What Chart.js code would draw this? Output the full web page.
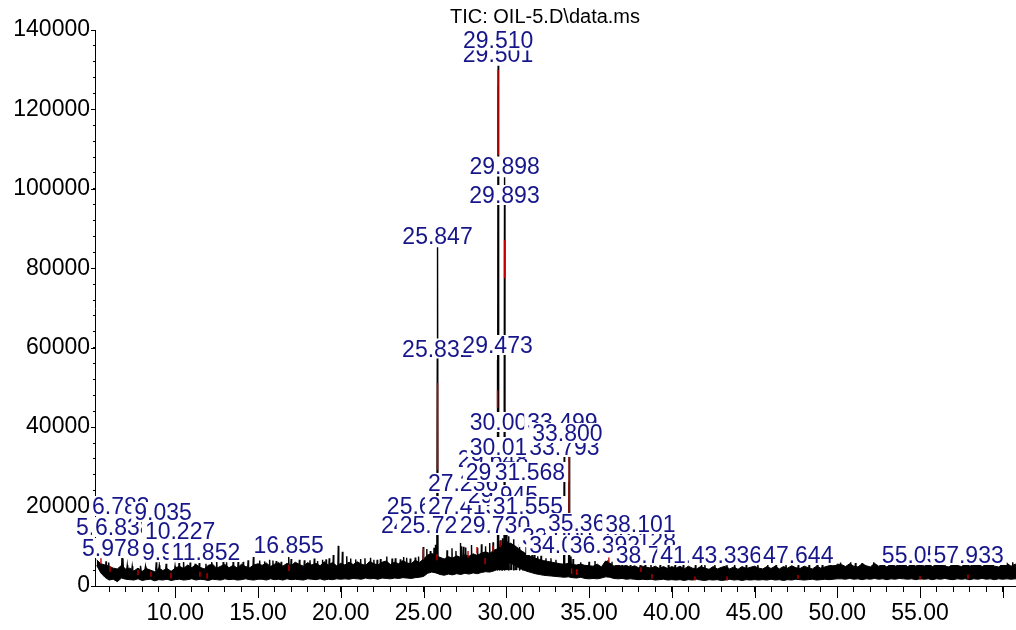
<!DOCTYPE html>
<html>
<head>
<meta charset="utf-8">
<title>TIC: OIL-5.D\data.ms</title>
<script src="https://cdn.jsdelivr.net/npm/chart.js@4.4.1/dist/chart.umd.min.js"></script>
<style>
  html, body { margin: 0; padding: 0; background: #ffffff; }
  #wrap { width: 1016px; height: 630px; position: relative; }
</style>
</head>
<body>
<div id="wrap"><canvas id="tic" width="1016" height="630"></canvas></div>
<script>
// ---- Chromatogram data (retention time in minutes, abundance in counts) ----
const chartTitle = 'TIC: OIL-5.D\\data.ms';

// Noise band of the baseline, sampled every 0.25 min starting at 5.25 min
const gridStart = 5.25;
const gridStep = 0.25;
const bandUpper = [
  6600, 5600, 5300, 5000, 4500, 4300, 5200, 4300,
  4500, 3800, 4500, 3700, 4400, 4000, 3600, 4500, 3900, 4400, 3700, 4500,
  5000, 4400, 5300, 4600, 5400, 4700, 4300, 5200, 5500, 4500, 5000, 5400, 4600, 5200, 4500, 5500, 4900, 4600, 5300, 5600,
  5200, 5800, 4900, 5500, 5900, 5000, 5700, 5100, 6000, 5400, 5000, 5900, 5300, 5700, 5100, 6100, 5300, 5900, 5100, 5700,
  5300, 6000, 5400, 6100, 5500, 5200, 6200, 5600, 5300, 6000, 6300, 5400, 6000, 5600, 6400, 5800, 5600, 6500, 5900, 6800,
  7800, 8200, 7600, 7200, 6800, 7400, 7000, 7600, 7200, 7900, 7500, 8100, 7700, 8300, 8600, 8200, 9000, 9400, 9800, 10300,
  10800, 10200, 9400, 8600, 8000, 7400, 7000, 6700, 6400, 6200, 6000, 5800, 5600, 5500, 5700, 5400, 5300, 5500, 5200, 5100,
  5000, 5500, 4800, 6300, 5800, 5000, 5300, 4900, 5200, 4700, 5100, 4600, 5000, 4700, 4500, 5000, 4400, 4900, 4400, 4900,
  4500, 5000, 4300, 5000, 4500, 4300, 4900, 4500, 4200, 4900, 4300, 4700, 5000, 4300, 4800, 4200, 4900, 4400, 4700, 5000,
  4500, 4300, 4900, 4400, 5000, 4300, 4900, 4500, 5100, 4600, 4400, 5000, 4600, 4300, 5000, 4500, 4800, 5100, 5100, 5500,
  5400, 4900, 5600, 5000, 4800, 5600, 5100, 4800, 5700, 5000, 5400, 4800, 5600, 5000, 5300, 5700, 4900, 5400, 5000, 5600,
  5000, 5600, 4900, 5400, 5700, 5000, 4800, 5600, 5200, 4900, 5600, 5000, 5300, 5700, 4900, 5400, 5600, 5000, 4800, 5400, 5700, 5000, 5500, 5300
];
const bandLower = [
  5200, 3300, 2200, 1500, 1700, 1100, 2000, 1700,
  1600, 1500, 1800, 1400, 1600, 1700, 1300, 1600, 1500, 1700, 1400, 1600,
  1700, 1500, 1600, 1800, 1500, 1700, 1600, 1400, 1700, 1600, 1500, 1800, 1600, 1700, 1500, 1600, 1800, 1600, 1500, 1700,
  1700, 1500, 1800, 1600, 1700, 1500, 1800, 1600, 1700, 1600, 1500, 1800, 1700, 1600, 1800, 1500, 1700, 1600, 1800, 1700,
  1800, 1700, 1900, 1800, 1700, 2000, 1800, 1900, 1700, 2000, 1900, 1800, 2000, 1900, 2100, 2000, 1900, 2100, 2200, 2400,
  3200, 3500, 3300, 2900, 2700, 3000, 2800, 3100, 2900, 3200, 3000, 3300, 3100, 3400, 3600, 3500, 3800, 4200, 4700, 5500,
  5800, 5200, 4600, 4100, 3700, 3400, 3100, 2900, 2700, 2600, 2500, 2400, 2300, 2200, 2300, 2100, 2000, 2200, 1900, 1800,
  1900, 1800, 2000, 2300, 2200, 1900, 1800, 1900, 1700, 1800, 1700, 1600, 1700, 1600, 1700, 1500, 1600, 1700, 1500, 1600,
  1500, 1600, 1400, 1600, 1500, 1700, 1500, 1400, 1600, 1500, 1600, 1400, 1500, 1700, 1500, 1600, 1400, 1600, 1500, 1600,
  1500, 1600, 1500, 1700, 1500, 1600, 1400, 1600, 1500, 1700, 1600, 1500, 1600, 1700, 1500, 1600, 1700, 1600, 1700, 1800,
  1800, 1700, 1900, 1700, 1800, 1600, 1800, 1700, 1900, 1700, 1800, 1600, 1800, 1700, 1900, 1800, 1700, 1800, 1600, 1800,
  1700, 1800, 1600, 1800, 1700, 1900, 1700, 1600, 1800, 1700, 1800, 1600, 1800, 1700, 1900, 1700, 1800, 1600, 1800, 1700, 1800, 1700, 1800, 1700
];

// Peaks rising out of the baseline: apex retention time and apex abundance
const peakTimes = [
  5.815, 5.978, 6.783, 6.838, 7.1, 7.4, 7.9, 8.2, 8.85, 9.035, 9.45, 9.987, 10.227, 10.5, 10.9, 11.2, 11.45, 11.852,
  12.2, 12.5, 12.9, 13.1, 13.5, 13.8, 14.1, 14.4, 14.72,
  15.1, 15.4, 15.7, 15.9, 16.1, 16.4, 16.855, 17.0, 17.5, 17.8, 18.14, 18.4, 18.6, 18.9, 19.11, 19.3, 19.55, 19.85, 20.1,
  20.36, 20.6, 20.9, 21.2, 21.46, 21.8, 22.0, 22.2, 22.4, 22.78, 23.1, 23.3, 23.6, 23.8, 23.98, 24.2, 24.5, 24.7,
  24.981, 25.2, 25.412, 25.634, 25.725, 25.832, 25.847, 26.42, 26.72, 26.96, 27.236, 27.3, 27.415, 27.55, 27.9,
  28.27, 28.5, 28.75, 29.0, 29.2, 29.473, 29.501, 29.51, 29.6, 29.648, 29.73, 29.775, 29.893, 29.898, 29.945, 30.003, 30.012,
  30.05, 30.15, 30.3, 30.45, 30.6, 30.8, 31.0, 31.2, 31.35, 31.555, 31.568, 31.7, 31.9, 32.1, 32.4, 32.7, 33.0,
  33.499, 33.793, 33.8, 33.909, 34.036, 34.5, 35.0, 35.361, 36.14,
  36.392, 36.8, 37.0, 37.5, 38.101, 38.128, 38.4, 38.741, 39.3, 39.8, 40.2, 40.7, 41.431, 41.8, 42.0, 42.6, 43.336, 43.8,
  44.5, 45.2, 45.8, 46.3, 46.9, 47.644, 48.3, 48.8, 49.1, 49.6, 50.2, 50.8, 51.1, 51.5, 52.2, 52.8, 53.4, 54.0, 54.6,
  55.051, 55.6, 56.0, 56.5, 57.2, 57.933, 58.3, 58.9, 59.4, 59.9, 60.2, 60.6
];
const peakHeights = [
  6200, 5900, 7800, 6900, 5200, 5000, 5100, 4900, 6000, 5200, 5600, 5000, 5800, 6300, 5900, 5600, 5800, 5600,
  6200, 6600, 6400, 6000, 6300, 6200, 6100, 6500, 7300,
  6400, 6200, 6600, 6400, 6300, 6100, 7300, 6800, 6600, 6500, 6500, 6900, 6300, 6600, 6700, 7000, 7800, 10100, 8600,
  7500, 6900, 6700, 6800, 7000, 7100, 6600, 6600, 6800, 7400, 6900, 7000, 6700, 7300, 7100, 6900, 7200, 7400,
  9800, 9300, 8800, 9600, 10400, 58000, 85300, 9000, 9500, 8800, 10800, 10000, 9900, 9700, 10300,
  9600, 10500, 10000, 10800, 11000, 57000, 126000, 131000, 10500, 11500, 10200, 12000, 96000, 102900, 11000, 14000, 13000,
  11200, 12500, 10500, 11800, 9500, 10500, 8700, 9800, 9000, 9200, 9600, 8200, 7500, 7600, 7000, 7000, 6600,
  33000, 31500, 35500, 7400, 6800, 6000, 6100, 6300, 6500,
  6100, 5900, 6000, 5700, 5800, 5600, 5900, 5400, 5500, 5600, 5400, 5500, 5200, 5400, 5300, 5500, 5300, 5400,
  5300, 5500, 5400, 5400, 5600, 5400, 5500, 5700, 5500, 5800, 5900, 6000, 5800, 5800, 6000, 5900, 5900, 5800, 6000,
  5800, 5900, 6100, 5900, 6000, 5700, 5900, 5800, 6100, 5900, 6000, 6000
];
const spikeFoot = 4000;

// Integration markers (red): retention time, lower and upper abundance
const markTimes = [29.51, 29.898, 25.847, 29.473, 33.8, 5.51, 6.06, 7.75, 8.53, 9.74, 11.49, 11.92, 16.87, 24.99, 25.81,
  27.69, 28.23, 28.72, 29.2, 29.62, 33.95, 34.26, 36.2, 38.14, 38.8, 41.4, 43.34, 47.63, 55.0, 57.9];
const markLow = [108500, 77500, 29200, 44800, 16000, 5600, 3600, 2800, 2300, 1900, 2300, 1900, 3800, 6700, 6500,
  7200, 8200, 5500, 8700, 9800, 3000, 2800, 6000, 3500, 1800, 1400, 1400, 1800, 1600, 1800];
const markHigh = [129900, 87100, 51100, 49300, 33000, 7000, 5000, 4000, 3600, 3300, 3600, 3200, 5300, 9500, 8000,
  8800, 9800, 7000, 10200, 11300, 4400, 4200, 7200, 4700, 3000, 2400, 2400, 2800, 2600, 2900];

// Retention-time annotations, in drawing order (later ones sit on top)
const labelTexts = [
  '5.815', '6.838', '10.227', '5.978', '9.987', '11.852', '6.783', '9.035', '16.855',
  '25.412', '25.634', '27.415', '29.945', '31.555', '24.981', '25.725', '29.730', '27.236', '29.648', '29.775', '31.568',
  '30.012', '33.793', '30.003', '33.499', '33.800',
  '33.909', '38.128', '35.361', '38.101', '34.036', '36.392', '38.741', '41.431', '43.336', '47.644', '55.051', '57.933',
  '29.501', '29.510', '29.893', '29.898', '25.832', '29.473', '25.847'
];
const labelTimes = [
  5.74, 6.89, 10.29, 6.10, 9.73, 11.852, 6.71, 9.26, 16.855,
  24.91, 24.91, 27.39, 29.80, 31.31, 24.55, 25.69, 29.32, 27.39, 29.20, 29.68, 31.43,
  29.92, 33.51, 29.92, 33.39, 33.69,
  33.07, 38.128, 34.64, 38.101, 33.51, 35.96, 38.741, 41.431, 43.336, 47.644, 54.82, 57.933,
  29.501, 29.510, 29.893, 29.898, 25.832, 29.473, 25.847
];
const labelLevels = [
  14860, 14860, 13850, 9570, 8560, 8560, 20140, 18630, 10320,
  17880, 20140, 20140, 22910, 20140, 15360, 15360, 15360, 25940, 31980, 28710, 28710,
  35000, 35000, 41300, 41300, 38530,
  12340, 11580, 15860, 15610, 10320, 10320, 7810, 7810, 7810, 7810, 7810, 7810,
  133960, 137360, 98450, 105630, 59800, 60690, 88130
];

// Axis ranges and tick spacing
const timeRange = [5.15, 60.8];
const abundanceRange = [0, 140000];
const timeMinorStep = 1, timeMajorStep = 5;
const abundanceMinorStep = 4000, abundanceMajorStep = 20000;

// ---- Build line data from the arrays above ----
const upperPoints = bandUpper.map((v, i) => ({ x: gridStart + i * gridStep, y: v }));
const lowerPoints = bandLower.map((v, i) => ({ x: gridStart + i * gridStep, y: v }));

const peakOrder = peakTimes.map((t, i) => i).sort((a, b) => peakTimes[a] - peakTimes[b]);
const spikePoints = [];
peakOrder.forEach(i => {
  const t = peakTimes[i];
  spikePoints.push({ x: t - 0.03, y: spikeFoot }, { x: t, y: peakHeights[i] },
                   { x: t + 0.03, y: spikeFoot }, { x: t + 0.03, y: null });
});

const markPoints = [];
markTimes.forEach((t, i) => {
  markPoints.push({ x: t, y: markLow[i] }, { x: t, y: markHigh[i] }, { x: t, y: null });
});

const FONT = '"Liberation Sans", Arial, Helvetica, sans-serif';
const LABEL_BLUE = '#16168a';

// Longer marks on the major ticks of both axes
const majorTicks = {
  id: 'majorTicks',
  afterDraw(chart) {
    const { ctx, scales: { x, y }, chartArea } = chart;
    ctx.save();
    ctx.strokeStyle = '#000';
    ctx.lineWidth = 1;
    ctx.beginPath();
    x.ticks.forEach(t => {
      if (Math.abs(t.value % timeMajorStep) < 1e-9) {
        const px = Math.round(x.getPixelForValue(t.value)) + 0.5;
        ctx.moveTo(px, chartArea.bottom);
        ctx.lineTo(px, chartArea.bottom + 12);
      }
    });
    y.ticks.forEach(t => {
      if (Math.abs(t.value % abundanceMajorStep) < 1e-9) {
        const py = Math.round(y.getPixelForValue(t.value)) + 0.5;
        ctx.moveTo(chartArea.left, py);
        ctx.lineTo(chartArea.left - 4, py);
      }
    });
    ctx.stroke();
    ctx.restore();
  }
};

// Retention-time annotations on white boxes
const peakLabels = {
  id: 'peakLabels',
  afterDraw(chart) {
    const { ctx, scales: { x, y } } = chart;
    ctx.save();
    ctx.font = '23px ' + FONT;
    ctx.textAlign = 'center';
    ctx.textBaseline = 'alphabetic';
    labelTexts.forEach((txt, i) => {
      const px = x.getPixelForValue(labelTimes[i]);
      const py = y.getPixelForValue(labelLevels[i]);
      const w = ctx.measureText(txt).width;
      ctx.fillStyle = '#ffffff';
      ctx.fillRect(px - w / 2 - 3, py - 10, w + 6, 20);
      ctx.fillStyle = LABEL_BLUE;
      ctx.fillText(txt, px, py + 8);
    });
    ctx.restore();
  }
};

const titleText = {
  id: 'titleText',
  afterDraw(chart) {
    const { ctx } = chart;
    ctx.save();
    ctx.font = '20px ' + FONT;
    ctx.fillStyle = '#000';
    ctx.textAlign = 'center';
    ctx.textBaseline = 'middle';
    ctx.fillText(chartTitle, 545, 17);
    ctx.restore();
  }
};

new Chart(document.getElementById('tic'), {
  type: 'line',
  data: {
    datasets: [
      { data: upperPoints, borderColor: '#000', borderWidth: 1, backgroundColor: '#000',
        fill: '+1', pointRadius: 0, tension: 0, order: 2 },
      { data: lowerPoints, borderColor: '#000', borderWidth: 1, fill: false,
        pointRadius: 0, tension: 0, order: 3 },
      { data: spikePoints, borderColor: '#000', borderWidth: 1.4, fill: false,
        pointRadius: 0, tension: 0, spanGaps: false, order: 1 },
      { data: markPoints, borderColor: '#c00000', borderWidth: 1.4, fill: false,
        pointRadius: 0, tension: 0, spanGaps: false, order: 0 }
    ]
  },
  options: {
    responsive: false,
    animation: false,
    devicePixelRatio: 1,
    events: [],
    layout: { padding: { top: 30, right: 0, left: 0, bottom: 0 } },
    plugins: { legend: { display: false }, tooltip: { enabled: false }, title: { display: false } },
    scales: {
      x: {
        type: 'linear',
        min: timeRange[0], max: timeRange[1],
        border: { display: true, color: '#000', width: 1 },
        grid: { display: true, drawOnChartArea: false, drawTicks: true, tickLength: 6, color: '#000', lineWidth: 1 },
        ticks: {
          stepSize: timeMinorStep, autoSkip: false, includeBounds: false, maxRotation: 0,
          color: '#000', font: { family: FONT, size: 23 }, padding: 8,
          callback: v => (v % timeMajorStep === 0 && v >= 10 && v <= 55) ? v.toFixed(2) : ''
        },
        afterFit: s => { s.height = 44; }
      },
      y: {
        type: 'linear',
        min: abundanceRange[0], max: abundanceRange[1],
        border: { display: true, color: '#000', width: 1 },
        grid: { display: true, drawOnChartArea: false, drawTicks: true, tickLength: 2, color: '#000', lineWidth: 1 },
        ticks: {
          stepSize: abundanceMinorStep, autoSkip: false, includeBounds: false,
          color: '#000', font: { family: FONT, size: 23 }, padding: 3,
          callback: v => (v % abundanceMajorStep === 0) ? String(v) : ''
        },
        afterFit: s => { s.width = 95; }
      }
    }
  },
  plugins: [majorTicks, peakLabels, titleText]
});
</script>
</body>
</html>
